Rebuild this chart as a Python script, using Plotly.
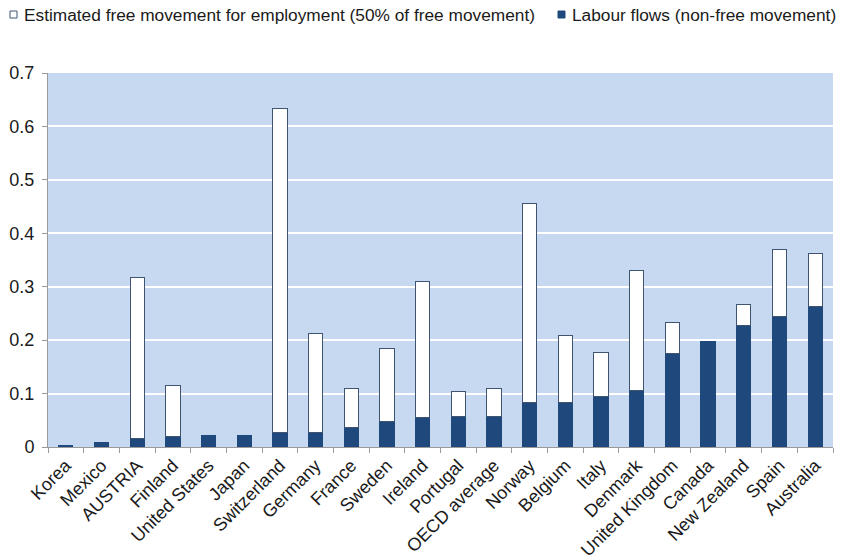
import plotly.graph_objects as go

countries = ["Korea", "Mexico", "AUSTRIA", "Finland", "United States", "Japan",
             "Switzerland", "Germany", "France", "Sweden", "Ireland", "Portugal",
             "OECD average", "Norway", "Belgium", "Italy", "Denmark",
             "United Kingdom", "Canada", "New Zealand", "Spain", "Australia"]

labour_flows = [0.003, 0.008, 0.015, 0.020, 0.022, 0.022, 0.028, 0.028, 0.036,
                0.047, 0.056, 0.057, 0.058, 0.083, 0.083, 0.095, 0.106, 0.175,
                0.197, 0.227, 0.245, 0.263]

free_movement = [None, None, 0.303, 0.096, None, None, 0.605, 0.184, 0.074,
                 0.138, 0.253, 0.046, 0.051, 0.373, 0.125, 0.082, 0.225, 0.058,
                 None, 0.040, 0.124, 0.099]

y_ticks = [0, 0.1, 0.2, 0.3, 0.4, 0.5, 0.6, 0.7]
y_tick_labels = ["0", "0.1", "0.2", "0.3", "0.4", "0.5", "0.6", "0.7"]

free_name = "Estimated free movement for employment (50% of free movement)"
labour_name = "Labour flows (non-free movement)"

dark = "#1F497D"
outline = "#3F5470"
font = "Liberation Sans, Arial, sans-serif"
text_col = "#1a1a1a"

# The page body adds an 8px margin, so the figure is drawn 8px smaller and
# all layout positions are expressed in window pixels minus that offset.
OFF = 8
W, H = 850 - OFF, 560 - OFF
ML, MR, MT = 48 - OFF, 17, 73 - OFF
MB = H - (447 - OFF)
PW, PH = W - ML - MR, H - MT - MB


def px(x):
    return (x - OFF - ML) / PW


def py(y):
    return (H - MB - (y - OFF)) / PH


fig = go.Figure()
fig.add_trace(go.Bar(
    x=countries, y=labour_flows, name=labour_name,
    marker=dict(color=dark, line=dict(color=dark, width=1)),
    width=0.4, showlegend=False,
))
fig.add_trace(go.Bar(
    x=countries, y=free_movement, name=free_name,
    marker=dict(color="white", line=dict(color=outline, width=1)),
    width=0.4, showlegend=False,
))

# Manual legend (Excel-like tight spacing), positions in window pixels
legend_items = [(10, "white", outline, free_name), (558, dark, dark, labour_name)]
for x0, fill, line, name in legend_items:
    fig.add_shape(type="rect", xref="paper", yref="paper",
                  x0=px(x0), x1=px(x0 + 7), y0=py(18), y1=py(11),
                  fillcolor=fill, line=dict(color=line, width=1))
    fig.add_annotation(xref="paper", yref="paper", x=px(x0 + 13), y=py(15),
                       xanchor="left", yanchor="middle", showarrow=False,
                       text=name, font=dict(size=17.3, color=text_col, family=font),
                       borderpad=0)

fig.update_layout(
    barmode="stack",
    width=W, height=H,
    margin=dict(l=ML, r=MR, t=MT, b=MB, autoexpand=False),
    paper_bgcolor="white",
    plot_bgcolor="#C6D9F1",
    font=dict(family=font, size=18, color=text_col),
    showlegend=False,
)
fig.update_yaxes(
    range=[0, 0.7], tickvals=y_ticks, ticktext=y_tick_labels,
    showgrid=True, gridcolor="white", gridwidth=1.5,
    showline=True, linecolor="#9A9A9A", linewidth=1,
    ticks="outside", ticklen=5, tickcolor="#9A9A9A",
    ticklabelstandoff=4,
    tickfont=dict(size=18, color=text_col), zeroline=False,
)
fig.update_xaxes(
    showline=True, linecolor="#9A9A9A", linewidth=1,
    ticks="outside", ticklen=5, tickcolor="#9A9A9A", tickson="boundaries",
    tickangle=-45, tickfont=dict(size=18, color=text_col), showgrid=False,
)

fig.write_html("out.html")
